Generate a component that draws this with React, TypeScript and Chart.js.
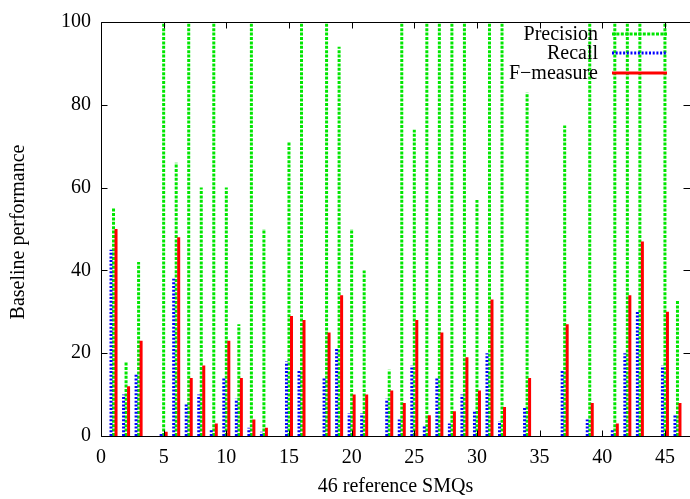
import React, { useEffect, useRef } from "react";
import { Chart, registerables } from "chart.js";

Chart.register(...registerables);

// ---- data ----
const smqIndex = [
  1, 2, 3, 4, 5, 6, 7, 8, 9, 10, 11, 12, 13, 14, 15, 16, 17, 18, 19, 20, 21, 22, 23,
  24, 25, 26, 27, 28, 29, 30, 31, 32, 33, 34, 35, 36, 37, 38, 39, 40, 41, 42, 43, 44, 45, 46,
];
const precision = [
  55, 18, 42, 0, 100, 66, 100, 60, 100, 60, 27, 100, 50, 0, 71, 100, 0, 100, 94, 50, 40, 0, 16,
  100, 74, 100, 100, 100, 100, 57, 100, 100, 0, 83, 0, 0, 75, 0, 100, 0, 100, 100, 100, 0, 100, 33,
];
const recall = [
  45, 10, 15, 0, 0.5, 38, 8, 10, 1.5, 14, 9, 2, 1, 0, 18, 16, 0, 14, 21, 5.5, 5.5, 0, 9,
  4, 17, 2.6, 14, 3, 10, 6, 20, 3.6, 0, 7, 0, 0, 16, 0, 4, 0, 1.5, 20, 30, 0, 17, 5,
];
const fMeasure = [
  50, 12, 23, 0, 1, 48, 14, 17, 3, 23, 14, 4, 2, 0, 29, 28, 0, 25, 34, 10, 10, 0, 11,
  8, 28, 5, 25, 6, 19, 11, 33, 7, 0, 14, 0, 0, 27, 0, 8, 0, 3, 34, 47, 0, 30, 8,
];
const seriesLabels = ["Precision", "Recall", "F\u2212measure"];
const xTicks = [0, 5, 10, 15, 20, 25, 30, 35, 40, 45];
const yTicks = [0, 20, 40, 60, 80, 100];
const xTitle = "46 reference SMQs";
const yTitle = "Baseline performance";

const FONT = "'Liberation Serif', 'Times New Roman', serif";

function impulses(values: number[], offset: number) {
  const pts: { x: number; y: number | null }[] = [];
  values.forEach((v, i) => {
    if (!(v > 0)) return;
    const x = smqIndex[i] + offset;
    pts.push({ x, y: 0 }, { x, y: v }, { x, y: null });
  });
  return pts;
}

const framePlugin = {
  id: "gnuFrame",
  afterDatasetsDraw(chart: any) {
    const { ctx, chartArea, scales } = chart;
    const { left, right, top, bottom } = chartArea;
    const L = Math.round(left) + 0.5;
    const R = Math.round(right) + 0.5;
    const T = Math.round(top) + 0.5;
    const B = Math.round(bottom) + 0.5;
    ctx.save();
    ctx.strokeStyle = "#000";
    ctx.lineWidth = 1;
    ctx.beginPath();
    ctx.moveTo(L, T);
    ctx.lineTo(R, T);
    ctx.lineTo(R, B);
    ctx.lineTo(L, B);
    ctx.closePath();
    ctx.stroke();
    const tl = 6;
    ctx.beginPath();
    xTicks.forEach((v) => {
      const px = Math.round(scales.x.getPixelForValue(v)) + 0.5;
      ctx.moveTo(px, B);
      ctx.lineTo(px, B - tl);
      ctx.moveTo(px, T);
      ctx.lineTo(px, T + tl);
    });
    yTicks.forEach((v) => {
      const py = Math.round(scales.y.getPixelForValue(v)) + 0.5;
      ctx.moveTo(L, py);
      ctx.lineTo(L + tl, py);
      ctx.moveTo(R, py);
      ctx.lineTo(R - tl - 1, py);
    });
    ctx.stroke();

    // axis titles
    ctx.fillStyle = "#000";
    ctx.font = `20px ${FONT}`;
    ctx.textAlign = "center";
    ctx.textBaseline = "middle";
    ctx.fillText(xTitle, (left + right) / 2, 487);
    ctx.save();
    ctx.translate(19, 232);
    ctx.rotate(-Math.PI / 2);
    ctx.fillText(yTitle, 0, 0);
    ctx.restore();

    // legend
    const rows = [34, 53, 73];
    chart.data.datasets.forEach((ds: any, i: number) => {
      const y = rows[i];
      ctx.textAlign = "right";
      ctx.fillStyle = "#000";
      ctx.fillText(ds.label, 598, y + 1);
      ctx.save();
      ctx.strokeStyle = ds.borderColor;
      ctx.lineWidth = ds.borderWidth;
      ctx.setLineDash(ds.borderDash || []);
      ctx.beginPath();
      ctx.moveTo(612, y);
      ctx.lineTo(667, y);
      ctx.stroke();
      ctx.restore();
    });
    ctx.restore();
  },
};

export default function App() {
  const ref = useRef<HTMLCanvasElement | null>(null);

  useEffect(() => {
    if (!ref.current) return;
    const chart = new Chart(ref.current, {
      type: "line",
      data: {
        datasets: [
          {
            label: seriesLabels[0],
            data: impulses(precision, 0) as any,
            borderColor: "#00e600",
            borderWidth: 3,
            borderDash: [3, 1.4],
            borderCapStyle: "butt",
            pointRadius: 0,
            spanGaps: false,
            order: 3,
          },
          {
            label: seriesLabels[1],
            data: impulses(recall, -0.2) as any,
            borderColor: "#0000ff",
            borderWidth: 3,
            borderDash: [2, 1.7],
            borderCapStyle: "butt",
            pointRadius: 0,
            spanGaps: false,
            order: 2,
          },
          {
            label: seriesLabels[2],
            data: impulses(fMeasure, 0.2) as any,
            borderColor: "#ff0000",
            borderWidth: 3,
            borderCapStyle: "butt",
            pointRadius: 0,
            spanGaps: false,
            order: 1,
          },
        ],
      },
      options: {
        animation: false,
        responsive: false,
        devicePixelRatio: 1,
        layout: { padding: { top: 17, left: 0, right: 0, bottom: 0 } },
        plugins: {
          legend: { display: false },
          tooltip: { enabled: false },
        },
        scales: {
          x: {
            type: "linear",
            min: 0,
            max: 47,
            grid: { display: false, drawTicks: false },
            border: { display: false },
            afterBuildTicks: (s: any) => {
              s.ticks = xTicks.map((v) => ({ value: v }));
            },
            afterFit: (s: any) => {
              s.height = 63;
            },
            ticks: {
              color: "#000",
              font: { family: FONT, size: 20 },
              padding: 10,
              maxRotation: 0,
              autoSkip: false,
            },
          },
          y: {
            type: "linear",
            min: 0,
            max: 100,
            grid: { display: false, drawTicks: false },
            border: { display: false },
            afterBuildTicks: (s: any) => {
              s.ticks = yTicks.map((v) => ({ value: v }));
            },
            afterFit: (s: any) => {
              s.width = 101;
            },
            ticks: {
              color: "#000",
              font: { family: FONT, size: 20 },
              padding: 10,
            },
          },
        },
      },
      plugins: [framePlugin],
    });
    return () => chart.destroy();
  }, []);

  return (
    <div style={{ position: "fixed", left: 0, top: 0, width: 690, height: 499, background: "#fff" }}>
      <canvas ref={ref} width={690} height={499} />
    </div>
  );
}
